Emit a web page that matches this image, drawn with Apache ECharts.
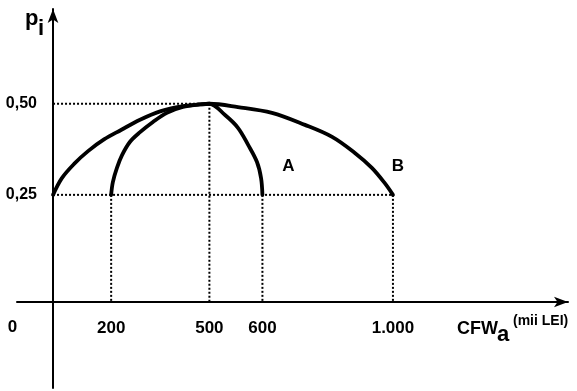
<!DOCTYPE html>
<html>
<head>
<meta charset="utf-8">
<script src="https://cdn.jsdelivr.net/npm/echarts@6/dist/echarts.min.js"></script>
<style>
  html, body { margin: 0; padding: 0; background: #fff; }
  #chart { width: 577px; height: 391px; }
</style>
</head>
<body>
<div id="chart"></div>
<script>
// ---- data (the drawing is a schematic, not to scale: xTickPos gives where each value sits on the horizontal axis) ----
const xTickLabels = ['200', '500', '600', '1.000'];
const xTickPos = [171, 460, 616, 1000];
const yTickLabels = ['0,25', '0,50'];
const yTickValues = [0.25, 0.5];

// curve B (wide spread: 0 .. 1.000)
const curveB_x = [0, 26, 62, 103, 150, 200, 256, 315, 374, 432, 460, 544, 644, 741, 821, 888, 938, 976, 1000];
const curveB_y = [0.25, 0.296, 0.335, 0.370, 0.402, 0.428, 0.456, 0.479, 0.492, 0.498, 0.5, 0.491, 0.475, 0.442, 0.409, 0.365, 0.324, 0.282, 0.25];
// curve A (narrow spread: 200 .. 600)
const curveA_x = [171, 176, 188, 203, 226, 256, 294, 335, 382, 432, 460, 506, 544, 574, 600, 612, 616];
const curveA_y = [0.25, 0.285, 0.324, 0.359, 0.395, 0.422, 0.450, 0.475, 0.491, 0.498, 0.5, 0.469, 0.434, 0.387, 0.340, 0.296, 0.25];

const axisLevel = -0.044; // p level at which the horizontal axis is drawn

const zip = (xs, ys) => xs.map((x, i) => [x, ys[i]]);
const FONT = '"Liberation Sans", Arial, sans-serif';

const guides = [
  [[0, yTickValues[1]], [xTickPos[1], yTickValues[1]]],
  [[0, yTickValues[0]], [xTickPos[3], yTickValues[0]]],
  [[xTickPos[0], yTickValues[0]], [xTickPos[0], axisLevel]],
  [[xTickPos[1], yTickValues[1]], [xTickPos[1], axisLevel]],
  [[xTickPos[2], yTickValues[0]], [xTickPos[2], axisLevel]],
  [[xTickPos[3], yTickValues[0]], [xTickPos[3], axisLevel]]
];

const series = guides.map(g => ({
  type: 'line', data: g, showSymbol: false, silent: true, z: 1,
  lineStyle: { color: '#000', width: 2, type: 'dotted' }
}));

function curve(name, xs, ys, off) {
  return {
    type: 'line', name: name, data: zip(xs, ys), showSymbol: false, z: 3,
    smooth: 0.35,
    lineStyle: { color: '#000', width: 3.8, cap: 'round', join: 'round' },
    endLabel: {
      show: true, formatter: name, distance: 0, align: 'center', verticalAlign: 'middle',
      offset: off, color: '#000', fontFamily: FONT, fontWeight: 'bold', fontSize: 17
    }
  };
}
series.push(curve('A', curveA_x, curveA_y, [26, -29]));
series.push(curve('B', curveB_x, curveB_y, [5, -29]));

const chart = echarts.init(document.getElementById('chart'), null, { renderer: 'canvas' });
chart.setOption({
  animation: false,
  backgroundColor: '#fff',
  grid: { left: 17, right: 9, top: 9, bottom: 3, containLabel: false, outerBoundsMode: 'none' },
  xAxis: {
    type: 'value', min: -106, max: 1515, position: 'bottom', offset: -86,
    splitLine: { show: false },
    axisTick: { show: false },
    axisLine: { onZero: false, symbol: ['none', 'arrow'], symbolSize: [8, 14],
      lineStyle: { color: '#000', width: 2 } },
    axisLabel: {
      customValues: xTickPos, margin: 18,
      formatter: v => xTickLabels[xTickPos.indexOf(v)] || '',
      color: '#000', fontFamily: FONT, fontWeight: 'bold', fontSize: 17
    }
  },
  yAxis: {
    type: 'value', min: -0.28, max: 0.76, position: 'left', offset: -36,
    splitLine: { show: false },
    axisTick: { show: false },
    axisLine: { onZero: false, symbol: ['none', 'arrow'], symbolSize: [8, 14],
      lineStyle: { color: '#000', width: 2 } },
    axisLabel: {
      customValues: yTickValues, margin: 16,
      formatter: v => yTickLabels[yTickValues.indexOf(v)] || '',
      color: '#000', fontFamily: FONT, fontWeight: 'bold', fontSize: 16
    }
  },
  graphic: [
    { type: 'text', x: 25, y: 19, style: { text: 'p', fill: '#000', font: 'bold 22px ' + FONT, verticalAlign: 'middle', align: 'left' } },
    { type: 'text', x: 38, y: 29, style: { text: 'i', fill: '#000', font: 'bold 22px ' + FONT, verticalAlign: 'middle', align: 'left' } },
    { type: 'text', x: 12.5, y: 327.5, style: { text: '0', fill: '#000', font: 'bold 17px ' + FONT, verticalAlign: 'middle', align: 'center' } },
    { type: 'text', x: 457, y: 328.7, style: { text: 'CFW', fill: '#000', font: 'bold 18px ' + FONT, verticalAlign: 'middle', align: 'left' } },
    { type: 'text', x: 497, y: 334.5, style: { text: 'a', fill: '#000', font: 'bold 22px ' + FONT, verticalAlign: 'middle', align: 'left' } },
    { type: 'text', x: 513, y: 321, style: { text: '(mii LEI)', fill: '#000', font: 'bold 14px ' + FONT, verticalAlign: 'middle', align: 'left' } }
  ],
  series: series
});
</script>
</body>
</html>
